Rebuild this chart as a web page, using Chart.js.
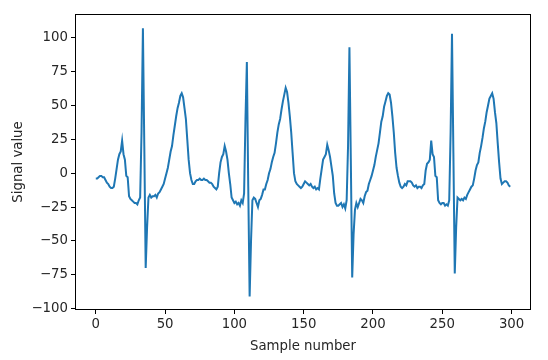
<!DOCTYPE html>
<html>
<head>
<meta charset="utf-8">
<script src="https://cdn.jsdelivr.net/npm/chart.js@4/dist/chart.umd.min.js"></script>
<style>
  body { margin: 0; background: #fff; }
  #wrap { width: 548px; height: 360px; }
</style>
</head>
<body>
<div id="wrap"><canvas id="myChart" width="548" height="360"></canvas></div>
<script>
// valeurs (300 echantillons)
var signal = [
  -4, -4, -3, -2, -2, -3, -3, -5, -7, -8,
  -10, -11, -11, -10, -4, 3, 10, 14, 16, 24,
  14, 10, -2, -3, -17, -19, -20, -21, -22, -22,
  -23, -20, -18, 30, 107, 20, -70, -40, -18, -16,
  -18, -17, -17, -16, -18, -15, -14, -12, -10, -8,
  -4, 0, 4, 10, 16, 20, 28, 35, 42, 48,
  52, 57, 59, 56, 48, 40, 25, 10, 0, -5,
  -8, -8, -6, -5, -5, -4, -5, -5, -4, -5,
  -5, -6, -7, -7, -8, -10, -11, -12, -10, 0,
  8, 12, 14, 20, 16, 10, 0, -8, -18, -20,
  -22, -21, -23, -22, -24, -20, -22, -15, 40, 82,
  -10, -91, -50, -20, -18, -19, -22, -25, -20, -19,
  -16, -12, -12, -8, -5, 0, 3, 8, 12, 15,
  22, 30, 36, 40, 47, 53, 58, 63, 60, 52,
  42, 30, 15, 0, -6, -8, -9, -10, -11, -10,
  -8, -6, -7, -8, -9, -8, -10, -11, -10, -12,
  -11, -12, -4, 3, 10, 12, 14, 21, 17, 12,
  5, -2, -15, -22, -24, -24, -23, -22, -25, -23,
  -26, -20, 20, 93, 10, -77, -45, -27, -22, -25,
  -22, -19, -20, -22, -17, -14, -13, -8, -5, -2,
  2, 6, 12, 17, 22, 30, 38, 42, 49, 53,
  57, 59, 58, 52, 42, 30, 15, 4, -2, -7,
  -10, -11, -10, -8, -9, -6, -6, -6, -7, -9,
  -10, -9, -11, -10, -10, -11, -9, -8, 2, 7,
  8, 10, 24, 14, 12, -2, -3, -20, -22, -23,
  -22, -22, -24, -23, -24, -20, 30, 103, 15, -74,
  -40, -18, -19, -20, -19, -20, -18, -19, -16, -14,
  -12, -10, -9, -4, 2, 6, 8, 15, 20, 26,
  33, 38, 45, 50, 55, 57, 59, 55, 45, 37,
  22, 8, -4, -8, -7, -6, -6, -7, -9, -10
];
var xTicks = [0, 50, 100, 150, 200, 250, 300];
var yTicks = [-100, -75, -50, -25, 0, 25, 50, 75, 100];
var xLabel = 'Sample number';
var yLabel = 'Signal value';

/**************************************************/
var points = signal.map((v, i) => ({x: i, y: v}));
var police = {family: 'DejaVu Sans', size: 13.3};

// cadre autour de la zone du graphe (comme matplotlib)
var cadre = {
    id: 'cadre',
    afterDraw(chart) {
        let a = chart.chartArea, c = chart.ctx;
        c.save();
        c.strokeStyle = '#000';
        c.lineWidth = 1;
        c.strokeRect(Math.round(a.left) + 0.5, Math.round(a.top) + 0.5,
            Math.round(a.right - a.left) - 1, Math.round(a.bottom - a.top) - 1);
        c.restore();
    }
};

var ctx = document.getElementById('myChart').getContext('2d');
var myChart = new Chart(ctx, {
    type: 'line',
    data: {
        datasets: [{
            data: points,
            borderColor: '#1f77b4',
            backgroundColor: 'transparent',
            borderWidth: 2,
            pointRadius: 0,
            tension: 0
        }]
    },
    options: {
        responsive: false,
        animation: false,
        layout: {padding: {top: 14, right: 17, left: 0, bottom: 0}},
        plugins: {legend: {display: false}, tooltip: {enabled: false}},
        scales: {
            x: {
                type: 'linear',
                min: -15,
                max: 314,
                afterBuildTicks: s => { s.ticks = xTicks.map(v => ({value: v})); },
                afterFit: s => { s.height = 50; },
                grid: {display: true, drawOnChartArea: false, tickLength: 4, color: '#000'},
                border: {display: false},
                ticks: {font: police, color: '#262626', padding: 3, maxRotation: 0},
                title: {display: true, text: xLabel, font: police, color: '#262626', padding: {top: 0, bottom: 5}}
            },
            y: {
                min: -101,
                max: 117.5,
                afterBuildTicks: s => { s.ticks = yTicks.map(v => ({value: v})); },
                afterFit: s => { s.width = 75; },
                grid: {display: true, drawOnChartArea: false, tickLength: 4, color: '#000'},
                border: {display: false},
                ticks: {
                    font: police, color: '#262626', padding: 3,
                    callback: v => (v < 0 ? '\u2212' + Math.abs(v) : '' + v)
                },
                title: {display: true, text: yLabel, font: police, color: '#262626', padding: {top: 11, bottom: 0}}
            }
        }
    },
    plugins: [cadre]
});
</script>
</body>
</html>
